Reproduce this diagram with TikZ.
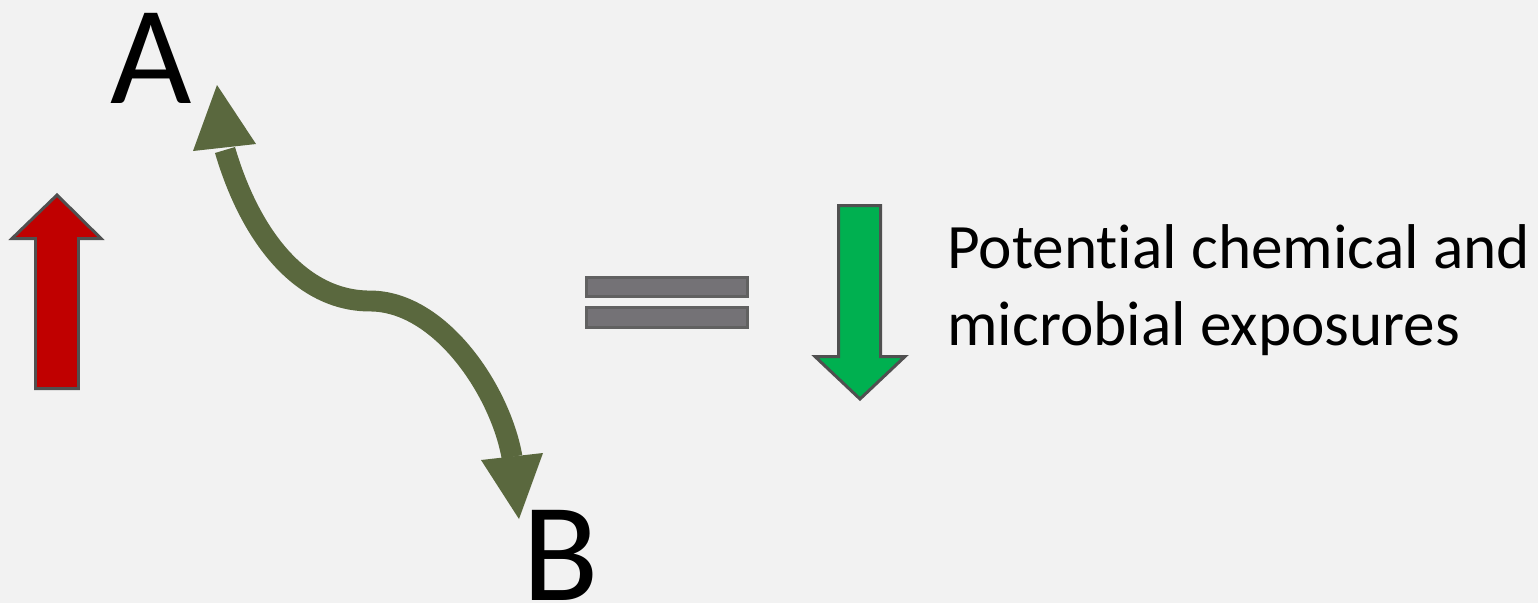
\documentclass[tikz,border=0pt]{standalone}
\usepackage{fontspec}
\setmainfont{Carlito}[Ligatures=NoCommon]
\definecolor{bg}{HTML}{F2F2F2}
\definecolor{upred}{HTML}{C00000}
\definecolor{downgreen}{HTML}{00B050}
\definecolor{edgegray}{HTML}{505050}
\definecolor{barfill}{HTML}{747276}
\definecolor{olivearrow}{RGB}{90,104,62}
\tikzset{
  blockarrow/.style={draw=edgegray, line width=1.7pt, line join=miter},
  bar/.style={draw=edgegray!90, fill=barfill, line width=1.7pt},
  bigletter/.style={inner sep=0pt, font=\fontsize{80}{90}\selectfont},
  curvy/.style={draw=olivearrow, line width=11.9pt},
  curvyhead/.style={fill=olivearrow},
}
\begin{document}
\begin{tikzpicture}[x=0.02cm,y=-0.02cm]
\fill[bg] (0,0) rectangle (1538,603);
\useasboundingbox (0,0) rectangle (1538,603);
% up arrow
\draw[blockarrow, fill=upred] (35.5,388.5) -- (35.5,238.5) -- (12,238.5) -- (57,195) -- (101,238.5) -- (78.5,238.5) -- (78.5,388.5) -- cycle;
% equals bars
\draw[bar] (586.5,277.5) rectangle (747.5,296.5);
\draw[bar] (586.5,307.5) rectangle (747.5,327.5);
% down arrow
\draw[blockarrow, fill=downgreen] (838.5,205.5) -- (880.5,205.5) -- (880.5,356.5) -- (905,356.5) -- (860,399) -- (815,356.5) -- (838.5,356.5) -- cycle;
% letters
\node[bigletter, anchor=base] (A) at (151,103) {A};
\node[bigletter, anchor=base] (B) at (561,600) {B};
% curved double arrow
\coordinate (topbase) at (225,150);
\coordinate (mid) at (370,301);
\coordinate (botbase) at (512,457);
\draw[curvy] (topbase) .. controls (250,235) and (300,301) .. (mid) .. controls (440,301) and (500,390) .. (botbase);
\fill[curvyhead] (217,85) -- (256,144) -- (193,151) -- cycle;
\fill[curvyhead] (519,519) -- (481,460) -- (543,453) -- cycle;
% text
\node[inner sep=0pt, anchor=base west, align=left, font=\fontsize{36}{43.7}\selectfont] (txt) at (947,345) {Potential chemical and\\microbial exposures};
\end{tikzpicture}
\end{document}
